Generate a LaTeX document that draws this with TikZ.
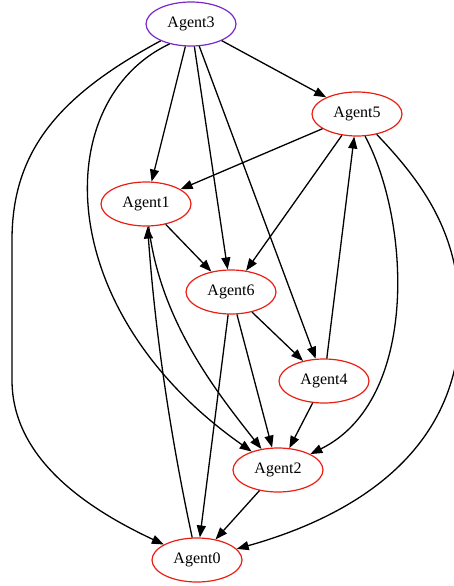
\documentclass[tikz,border=0pt]{standalone}
\usepackage{fontspec}
\setmainfont{Liberation Serif}
\usepackage{tikz}
\usetikzlibrary{shapes.geometric,arrows.meta}

\definecolor{agentred}{RGB}{235,30,20}
\definecolor{agentpurple}{RGB}{120,40,200}

\begin{document}
\begin{tikzpicture}[x=1pt,y=-1pt,
    agent/.style={ellipse, draw=agentred, line width=1.2pt, minimum width=90pt, minimum height=44pt, inner sep=0pt, font=\fontsize{16}{18}\selectfont},
    root/.style={agent, draw=agentpurple},
    link/.style={line width=1.3pt, -{Triangle[length=12pt,width=9pt]}}]
    \useasboundingbox (0,0) rectangle (453,586);

    % Agents
    \node[root]  (a3) at (191,24)  {Agent3};
    \node[agent] (a5) at (357,114) {Agent5};
    \node[agent] (a1) at (146,204) {Agent1};
    \node[agent] (a6) at (231,292) {Agent6};
    \node[agent] (a4) at (324,381) {Agent4};
    \node[agent] (a2) at (278,470) {Agent2};
    \node[agent] (a0) at (197,560) {Agent0};

    % Links from Agent3
    \draw[link] (a3) -- (a5);
    \draw[link] (a3) -- (a1);
    \draw[link] (a3) -- (a6);
    \draw[link] (a3) -- (a4);
    \draw[link] (a3.223) .. controls (50,100) and (50,310) .. (a2);
    \draw[link] (a3.209) .. controls (60,95) and (12,150) .. (12,240) -- (12,380) .. controls (12,460) and (90,510) .. (a0);

    % Links from Agent5
    \draw[link] (a5) -- (a1);
    \draw[link] (a5) -- (a6);
    \draw[link] (a5.290) .. controls (410,220) and (420,400) .. (a2);
    \draw[link] (a5.314) .. controls (430,190) and (460,240) .. (460,320) .. controls (460,460) and (340,520) .. (a0);

    % Remaining links
    \draw[link] (a4) -- (a5);
    \draw[link] (a1) -- (a6);
    \draw[link] (a1) .. controls (160,320) and (215,390) .. (a2);
    \draw[link] (a0) .. controls (170,434) and (155,331) .. (a1);
    \draw[link] (a6) -- (a4);
    \draw[link] (a6) -- (a2);
    \draw[link] (a6) -- (a0);
    \draw[link] (a4) -- (a2);
    \draw[link] (a2) -- (a0);
\end{tikzpicture}
\end{document}
